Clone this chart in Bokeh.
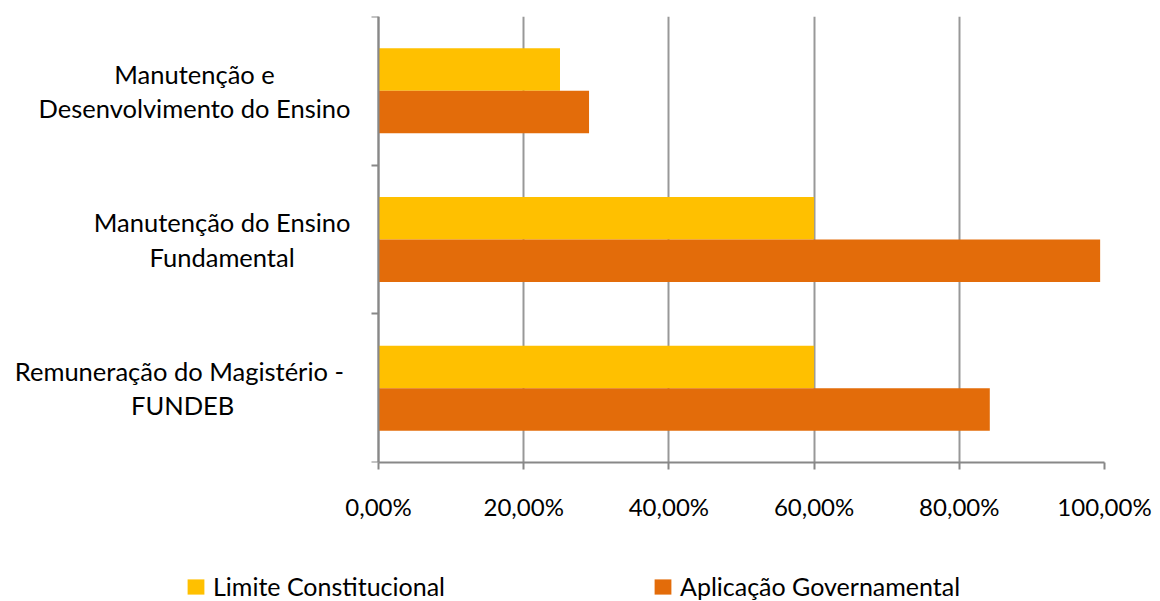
import numpy as np
from bokeh.plotting import figure
from bokeh.layouts import column
from bokeh.models import (ColumnDataSource, FixedTicker, Range1d, Legend, LegendItem)
from bokeh.core.properties import value
from bokeh.transform import dodge
from bokeh.embed import file_html
from bokeh.resources import INLINE

# ---- data (top-to-bottom reading order) ----
categories = [
    "Manutenção e Desenvolvimento do Ensino",
    "Manutenção do Ensino Fundamental",
    "Remuneração do Magistério - FUNDEB",
]
category_labels = [
    "Manutenção e\nDesenvolvimento do Ensino",
    "Manutenção do Ensino\nFundamental",
    "Remuneração do Magistério  -\nFUNDEB",
]
limite_constitucional = [25.0, 60.0, 60.0]
aplicacao_governamental = [29.0, 99.4, 84.2]
x_ticks = [0, 20, 40, 60, 80, 100]
x_tick_labels = ["0,00%", "20,00%", "40,00%", "60,00%", "80,00%", "100,00%"]
series_names = ["Limite Constitucional", "Aplicação Governamental"]

FONT = "Lato"
YELLOW = "#FFC000"
ORANGE = "#E36C0A"
AXIS = "#888888"
GRID = "#989898"

n = len(categories)
ypos = (n - 1 - np.arange(n)) + 0.5
source = ColumnDataSource(dict(
    y=ypos, limite=limite_constitucional, aplic=aplicacao_governamental,
    cat=categories, label=category_labels))

# layout (pixels)
W, TOP_H = 1160, 540
LABEL_PX = 378          # space for category names left of the value axis
RIGHT_PX = 56
FRAME_BOTTOM = 462
plot_px = W - LABEL_PX - RIGHT_PX
x_max = max(x_ticks)
x_start = -x_max * LABEL_PX / plot_px

# ---------------- main chart ----------------
p = figure(width=W, height=TOP_H, output_backend="svg", toolbar_location=None,
           x_range=Range1d(x_start, x_max), y_range=Range1d(0, n),
           y_axis_location="right",
           min_border_left=0, min_border_right=RIGHT_PX, min_border_top=16,
           min_border_bottom=TOP_H - FRAME_BOTTOM)
p.outline_line_color = None

bar_h = 0.286
r1 = p.hbar(y=dodge("y", bar_h / 2, range=p.y_range), right="limite", left=0, height=bar_h,
            source=source, fill_color=YELLOW, line_color=None)
r2 = p.hbar(y=dodge("y", -bar_h / 2, range=p.y_range), right="aplic", left=0, height=bar_h,
            source=source, fill_color=ORANGE, line_color=None)

# x axis
p.xaxis.ticker = FixedTicker(ticks=x_ticks)
p.xaxis.bounds = (0, x_max)
p.xaxis.major_label_overrides = {t: l for t, l in zip(x_ticks, x_tick_labels)}
p.xaxis.axis_line_color = AXIS
p.xaxis.axis_line_width = 2
p.xaxis.major_tick_line_color = AXIS
p.xaxis.major_tick_line_width = 2
p.xaxis.major_tick_in = 0
p.xaxis.major_tick_out = 7
p.xaxis.minor_tick_line_color = None
p.xaxis.major_label_text_font = FONT
p.xaxis.major_label_text_font_size = "24px"
p.xaxis.major_label_text_color = "black"
p.xaxis.major_label_standoff = 22

# y axis at value 0, ticks on category boundaries pointing left
p.yaxis.fixed_location = 0
p.yaxis.ticker = FixedTicker(ticks=[], minor_ticks=list(range(n + 1)))
p.yaxis.axis_line_color = AXIS
p.yaxis.axis_line_width = 2
p.yaxis.major_tick_line_color = None
p.yaxis.major_tick_in = 0
p.yaxis.major_tick_out = 0
p.yaxis.major_label_text_font_size = "0px"
p.yaxis.minor_tick_line_color = AXIS
p.yaxis.minor_tick_line_width = 2
p.yaxis.minor_tick_in = 7
p.yaxis.minor_tick_out = 0

p.xgrid.grid_line_color = GRID
p.xgrid.grid_line_width = 2
p.ygrid.grid_line_color = None

# category names
p.text(x=0, y="y", text="label", source=source,
       text_font=value(FONT), text_font_size="25.5px", text_color="black",
       text_align="center", text_baseline="middle", anchor="center_right",
       x_offset=-28, text_line_height=1.15)

# ---------------- legend panel ----------------
leg = figure(width=W, height=601 - TOP_H, output_backend="svg", toolbar_location=None,
             x_range=Range1d(0, 1), y_range=Range1d(0, 1), x_axis_type=None, y_axis_type=None,
             min_border_left=0, min_border_right=0, min_border_top=0, min_border_bottom=0)
leg.outline_line_color = None
leg.grid.visible = False
g1 = leg.hbar(y="y", right="limite", left=0, height=bar_h, source=source,
              fill_color=YELLOW, line_color=None, visible=False)
g2 = leg.hbar(y="y", right="aplic", left=0, height=bar_h, source=source,
              fill_color=ORANGE, line_color=None, visible=False)
for r, name, xloc in [(g1, series_names[0], 185), (g2, series_names[1], 652)]:
    lg = Legend(items=[LegendItem(label=name, renderers=[r])], location=(xloc, 0),
                orientation="horizontal", padding=0, margin=0, border_line_color=None,
                background_fill_alpha=0, inactive_fill_alpha=0,
                glyph_width=21, glyph_height=19, label_standoff=7,
                label_height=28, label_text_font=FONT, label_text_font_size="25px",
                label_text_color="black", label_text_baseline="middle")
    leg.add_layout(lg, "center")

layout = column(p, leg, spacing=0)
open("out.html", "w").write(file_html(layout, INLINE))
